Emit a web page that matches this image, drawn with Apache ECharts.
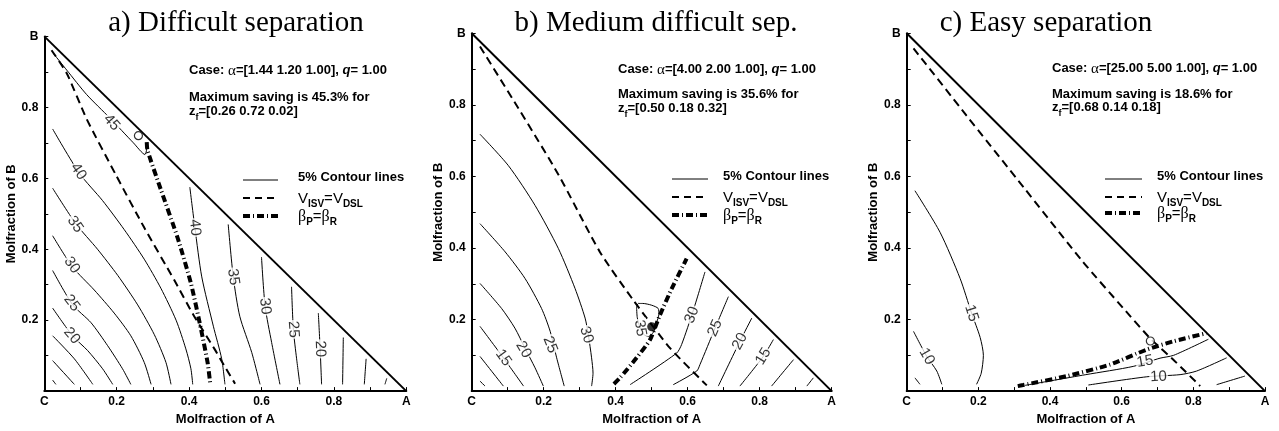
<!DOCTYPE html>
<html>
<head>
<meta charset="utf-8">
<script src="https://cdn.jsdelivr.net/npm/echarts/dist/echarts.min.js"></script>
<style>
  html, body { margin: 0; padding: 0; background: #fff; }
  #chart { width: 1279px; height: 431px; }
</style>
</head>
<body>
<div id="chart"></div>
<script>
const SANS = 'Liberation Sans, Arial, Helvetica, sans-serif';
const SERIF = 'Liberation Serif, Times New Roman, serif';

// ---- data ----
const titles = ['a) Difficult separation', 'b) Medium difficult sep.', 'c) Easy separation'];
const xTickLabels = ['C', '0.2', '0.4', '0.6', '0.8', 'A'];
const yTickLabels = ['', '0.2', '0.4', '0.6', '0.8', 'B'];
const alphas = [['1.44', '1.20', '1.00'], ['4.00', '2.00', '1.00'], ['25.00', '5.00', '1.00']];
const qValues = ['1.00', '1.00', '1.00'];
const maxSavings = ['45.3', '35.6', '18.6'];
const feedComps = [['0.26', '0.72', '0.02'], ['0.50', '0.18', '0.32'], ['0.68', '0.14', '0.18']];
const maxPoints = [[0.26, 0.72], [0.50, 0.18], [0.68, 0.14]];
const hypotenuse = [[0, 1], [1, 0]];

// a) difficult separation: 5% contour lines
const contoursA = [
  [[0.023, 0.031], [0.032, 0.019]],
  [[0.023, 0.086], [0.083, 0.019]],
  [[0.023, 0.156], [0.083, 0.091], [0.134, 0.019]],
  [[0.023, 0.234], [0.078, 0.156], [0.12, 0.114], [0.161, 0.063], [0.189, 0.019]],
  [[0.023, 0.34], [0.078, 0.244], [0.129, 0.193], [0.175, 0.128], [0.216, 0.063], [0.239, 0.019]],
  [[0.023, 0.438], [0.078, 0.35], [0.138, 0.285], [0.193, 0.22], [0.239, 0.156], [0.276, 0.081], [0.295, 0.019]],
  [[0.023, 0.572], [0.087, 0.472], [0.147, 0.4], [0.203, 0.326], [0.258, 0.243], [0.304, 0.159], [0.336, 0.081], [0.35, 0.019]],
  [[0.023, 0.739], [0.097, 0.614], [0.161, 0.537], [0.221, 0.455], [0.276, 0.372], [0.322, 0.29], [0.364, 0.2], [0.391, 0.119], [0.405, 0.063], [0.41, 0.019]],
  [[0.025, 0.952], [0.062, 0.905], [0.117, 0.836], [0.181, 0.77], [0.246, 0.7], [0.278, 0.667], [0.285, 0.7]],
  [[0.402, 0.575], [0.416, 0.461], [0.435, 0.322], [0.467, 0.183], [0.49, 0.091], [0.499, 0.019]],
  [[0.508, 0.47], [0.522, 0.322], [0.54, 0.211], [0.573, 0.109], [0.596, 0.019]],
  [[0.6, 0.378], [0.61, 0.239], [0.628, 0.137], [0.651, 0.019]],
  [[0.683, 0.294], [0.688, 0.174], [0.697, 0.091], [0.706, 0.019]],
  [[0.757, 0.22], [0.762, 0.119], [0.766, 0.019]],
  [[0.826, 0.151], [0.824, 0.019]],
  [[0.889, 0.091], [0.884, 0.019]],
  [[0.946, 0.036], [0.941, 0.019]]
];
const dashedA = [[0.02, 0.961], [0.062, 0.896], [0.117, 0.767], [0.198, 0.609], [0.276, 0.461], [0.359, 0.313], [0.414, 0.211], [0.47, 0.119], [0.497, 0.072], [0.527, 0.021]];
const dashDotA = [[0.283, 0.702], [0.285, 0.679], [0.322, 0.568], [0.368, 0.433], [0.405, 0.304], [0.433, 0.174], [0.451, 0.081], [0.458, 0.025]];
const labelsA = [
  [0.186, 0.757, '45'], [0.094, 0.619, '40'], [0.085, 0.47, '35'], [0.076, 0.355, '30'], [0.076, 0.248, '25'], [0.076, 0.156, '20'],
  [0.416, 0.461, '40'], [0.522, 0.322, '35'], [0.61, 0.239, '30'], [0.688, 0.174, '25'], [0.762, 0.119, '20']
];
const labelRotA = [-48, -55, -55, -55, -52, -50, -84, -82, -83, -86, -88];

// b) medium difficult separation
const contoursB = [
  [[0.023, 0.028], [0.037, 0.014]],
  [[0.023, 0.097], [0.088, 0.014]],
  [[0.023, 0.181], [0.088, 0.093], [0.144, 0.014]],
  [[0.023, 0.301], [0.083, 0.231], [0.12, 0.176], [0.148, 0.12], [0.176, 0.065], [0.199, 0.014]],
  [[0.023, 0.468], [0.093, 0.389], [0.148, 0.315], [0.194, 0.231], [0.218, 0.167], [0.236, 0.093], [0.257, 0.014]],
  [[0.023, 0.718], [0.102, 0.63], [0.176, 0.519], [0.241, 0.398], [0.287, 0.287], [0.315, 0.204], [0.324, 0.157], [0.333, 0.093], [0.337, 0.05], [0.333, 0.014]],
  [[0.458, 0.235], [0.463, 0.245], [0.475, 0.245], [0.5, 0.24], [0.518, 0.231], [0.52, 0.215], [0.513, 0.19], [0.505, 0.165], [0.491, 0.153], [0.478, 0.158], [0.468, 0.176], [0.46, 0.205], [0.458, 0.235]],
  [[0.648, 0.333], [0.616, 0.227], [0.583, 0.13], [0.569, 0.106], [0.44, 0.018]],
  [[0.713, 0.264], [0.676, 0.176], [0.634, 0.074], [0.625, 0.056], [0.56, 0.018]],
  [[0.778, 0.204], [0.745, 0.139], [0.685, 0.014]],
  [[0.838, 0.144], [0.81, 0.097], [0.745, 0.014]],
  [[0.894, 0.088], [0.833, 0.014]],
  [[0.949, 0.037], [0.931, 0.014]]
];
const dashedB = [[0.023, 0.963], [0.13, 0.79], [0.241, 0.605], [0.356, 0.389], [0.449, 0.254], [0.551, 0.12], [0.653, 0.016]];
const dashDotB = [[0.395, 0.02], [0.412, 0.037], [0.458, 0.093], [0.495, 0.143], [0.523, 0.213], [0.556, 0.287], [0.597, 0.37]];
const labelsB = [
  [0.088, 0.093, '15'], [0.144, 0.116, '20'], [0.218, 0.13, '25'], [0.319, 0.157, '30'], [0.468, 0.176, '35'],
  [0.612, 0.213, '30'], [0.676, 0.176, '25'], [0.745, 0.139, '20'], [0.81, 0.097, '15']
];
const labelRotB = [-54, -60, -68, -72, -80, 68, 66, 62, 58];

// c) easy separation
const contoursC = [
  [[0.023, 0.037], [0.037, 0.019]],
  [[0.019, 0.167], [0.056, 0.097], [0.084, 0.056], [0.098, 0.019]],
  [[0.023, 0.56], [0.093, 0.444], [0.149, 0.315], [0.181, 0.218], [0.205, 0.15], [0.214, 0.1], [0.208, 0.05], [0.195, 0.019]],
  [[0.33, 0.016], [0.5, 0.046], [0.632, 0.069], [0.707, 0.092], [0.745, 0.1], [0.842, 0.145]],
  [[0.507, 0.017], [0.67, 0.04], [0.763, 0.046], [0.809, 0.056], [0.893, 0.093]],
  [[0.865, 0.018], [0.944, 0.042]]
];
const dashedC = [[0.019, 0.958], [0.167, 0.77], [0.326, 0.57], [0.493, 0.36], [0.605, 0.231], [0.679, 0.148], [0.749, 0.083], [0.819, 0.014]];
const dashDotC = [[0.31, 0.014], [0.325, 0.017], [0.447, 0.042], [0.567, 0.074], [0.67, 0.116], [0.744, 0.139], [0.837, 0.162]];
const labelsC = [[0.056, 0.097, '10'], [0.181, 0.218, '15'], [0.665, 0.083, '15'], [0.703, 0.04, '10']];
const labelRotC = [-60, -72, 10, 3];

// ---- layout (pixels) ----
const grids = [
  { left: 44.3, top: 36.4, width: 362, height: 359.6 },
  { left: 471.7, top: 33.3, width: 360, height: 360 },
  { left: 906.7, top: 33.3, width: 358.3, height: 360 }
];
const titleX = [236, 656, 1046];
const caseX = [189, 618, 1052];
const caseY = [[73, 100, 111.5], [71.5, 97, 108.5], [70.5, 97, 107.5]];
const legLineX = [[243, 278], [672, 708], [1105, 1142]];
const legTextX = [298, 723, 1157];
const legY = [[180, 198, 216], [179, 197, 215], [179, 197, 213]];

const panels = [
  { contours: contoursA, dashed: dashedA, dashDot: dashDotA, labels: labelsA, rots: labelRotA, filled: false },
  { contours: contoursB, dashed: dashedB, dashDot: dashDotB, labels: labelsB, rots: labelRotB, filled: true },
  { contours: contoursC, dashed: dashedC, dashDot: dashDotC, labels: labelsC, rots: labelRotC, filled: false }
];

const DASH = [8, 5];
const DASHDOT = [7, 3, 1, 3];

const xAxes = [], yAxes = [], series = [], graphic = [];

panels.forEach((p, i) => {
  const axisCommon = {
    type: 'value', min: 0, max: 1, interval: 0.2, gridIndex: i,
    nameLocation: 'middle',
    nameTextStyle: { fontFamily: SANS, fontWeight: 'bold', fontSize: 13, color: '#000' },
    axisLine: { show: true, onZero: false, lineStyle: { color: '#000', width: 2 } },
    axisTick: { show: true, inside: true, length: 4, lineStyle: { color: '#000', width: 1 } },
    minorTick: { show: true, splitNumber: 2, length: 4, lineStyle: { color: '#000', width: 1 } },
    splitLine: { show: false },
    minorSplitLine: { show: false }
  };
  xAxes.push(Object.assign({}, axisCommon, {
    name: 'Molfraction of A', nameGap: 19,
    axisLabel: {
      margin: 5, fontFamily: SANS, fontWeight: 'bold', fontSize: 12, color: '#000',
      showMinLabel: true, showMaxLabel: true,
      formatter: v => xTickLabels[Math.round(v / 0.2)]
    }
  }));
  yAxes.push(Object.assign({}, axisCommon, {
    name: 'Molfraction of B', nameGap: 23,
    axisLabel: {
      margin: 6, fontFamily: SANS, fontWeight: 'bold', fontSize: 12, color: '#000',
      showMinLabel: true, showMaxLabel: true,
      formatter: v => yTickLabels[Math.round(v / 0.2)]
    }
  }));

  const base = { xAxisIndex: i, yAxisIndex: i, silent: true, animation: false };

  series.push(Object.assign({}, base, {
    type: 'line', data: hypotenuse, symbol: 'none', lineStyle: { color: '#000', width: 2 }, z: 3
  }));
  p.contours.forEach(c => {
    series.push(Object.assign({}, base, {
      type: 'line', data: c, symbol: 'none', smooth: 0.25,
      lineStyle: { color: '#000', width: 1 }, z: 2
    }));
  });
  series.push(Object.assign({}, base, {
    type: 'line', data: p.dashed, symbol: 'none', smooth: 0.2,
    lineStyle: { color: '#000', width: 2, type: DASH, cap: 'butt' }, z: 3
  }));
  series.push(Object.assign({}, base, {
    type: 'line', data: p.dashDot, symbol: 'none', smooth: 0.2,
    lineStyle: { color: '#000', width: 4, type: DASHDOT, cap: 'butt' }, z: 3
  }));
  series.push(Object.assign({}, base, {
    type: 'scatter', symbolSize: 1, itemStyle: { color: 'rgba(0,0,0,0)' },
    data: p.labels.map((l, k) => ({ name: l[2], value: [l[0], l[1]], label: { rotate: p.rots[k] } })),
    label: {
      show: true, position: 'inside', formatter: '{b}', fontFamily: SANS, fontSize: 15,
      color: '#000', backgroundColor: '#fff', padding: [0, 1]
    },
    z: 6
  }));
  series.push(Object.assign({}, base, {
    type: 'scatter', data: [maxPoints[i]], symbol: 'circle', symbolSize: p.filled ? 9 : 8,
    itemStyle: p.filled ? { color: '#000' } : { color: '#fff', borderColor: '#000', borderWidth: 1.2 },
    z: 7
  }));

  // title
  graphic.push({
    type: 'text', silent: true,
    style: { text: titles[i], x: titleX[i], y: 23, align: 'center', verticalAlign: 'middle',
      fontFamily: SERIF, fontSize: 29, fill: '#000' }
  });
  // annotation
  const b = { fontFamily: SANS, fontWeight: 'bold', fontSize: 13, lineHeight: 18, verticalAlign: 'top', fill: '#000' };
  const richCase = {
    b: b,
    s: { fontFamily: SERIF, fontSize: 15, lineHeight: 18, verticalAlign: 'top', fill: '#000' },
    i: Object.assign({}, b, { fontStyle: 'italic' }),
    sub: { fontFamily: SANS, fontWeight: 'bold', fontSize: 9, lineHeight: 6, verticalAlign: 'bottom', fill: '#000' }
  };
  graphic.push({
    type: 'text', silent: true,
    style: { text: '{b|Case: }{s|α}{b|=[' + alphas[i].join(' ') + '], }{i|q}{b|= ' + qValues[i] + '}',
      x: caseX[i], y: caseY[i][0], verticalAlign: 'middle', rich: richCase }
  });
  graphic.push({
    type: 'text', silent: true,
    style: { text: '{b|Maximum saving is ' + maxSavings[i] + '% for}',
      x: caseX[i], y: caseY[i][1], verticalAlign: 'middle', rich: richCase }
  });
  graphic.push({
    type: 'text', silent: true,
    style: { text: '{b|z}{sub|f}{b|=[' + feedComps[i].join(' ') + ']}',
      x: caseX[i], y: caseY[i][2] + 2, verticalAlign: 'middle', rich: richCase }
  });

  // legend
  const lx = legLineX[i], ly = legY[i];
  graphic.push({ type: 'line', silent: true, shape: { x1: lx[0], y1: ly[0], x2: lx[1], y2: ly[0] }, style: { stroke: '#000', lineWidth: 1 } });
  graphic.push({ type: 'line', silent: true, shape: { x1: lx[0], y1: ly[1], x2: lx[1], y2: ly[1] }, style: { stroke: '#000', lineWidth: 2, lineDash: [7, 5] } });
  graphic.push({ type: 'line', silent: true, shape: { x1: lx[0], y1: ly[2], x2: lx[1], y2: ly[2] }, style: { stroke: '#000', lineWidth: 4, lineDash: DASHDOT } });
  const richLeg = {
    b: b,
    n: { fontFamily: SANS, fontSize: 15, lineHeight: 18, verticalAlign: 'top', fill: '#000' },
    g: { fontFamily: SERIF, fontSize: 16, lineHeight: 18, verticalAlign: 'top', fill: '#000' },
    sub: { fontFamily: SANS, fontWeight: 'bold', fontSize: 10, lineHeight: 6, verticalAlign: 'bottom', fill: '#000' }
  };
  graphic.push({ type: 'text', silent: true, style: { text: '{b|5% Contour lines}', x: legTextX[i], y: ly[0], verticalAlign: 'middle', rich: richLeg } });
  graphic.push({ type: 'text', silent: true, style: { text: '{n|V}{sub|ISV}{n|=V}{sub|DSL}', x: legTextX[i], y: ly[1] + 2, verticalAlign: 'middle', rich: richLeg } });
  graphic.push({ type: 'text', silent: true, style: { text: '{g|β}{sub|P}{n|=}{g|β}{sub|R}', x: legTextX[i], y: ly[2] + 2, verticalAlign: 'middle', rich: richLeg } });
});

const chart = echarts.init(document.getElementById('chart'), null, { renderer: 'canvas' });
chart.setOption({
  animation: false,
  backgroundColor: '#fff',
  grid: grids,
  xAxis: xAxes,
  yAxis: yAxes,
  series: series,
  graphic: graphic
});
</script>
</body>
</html>
